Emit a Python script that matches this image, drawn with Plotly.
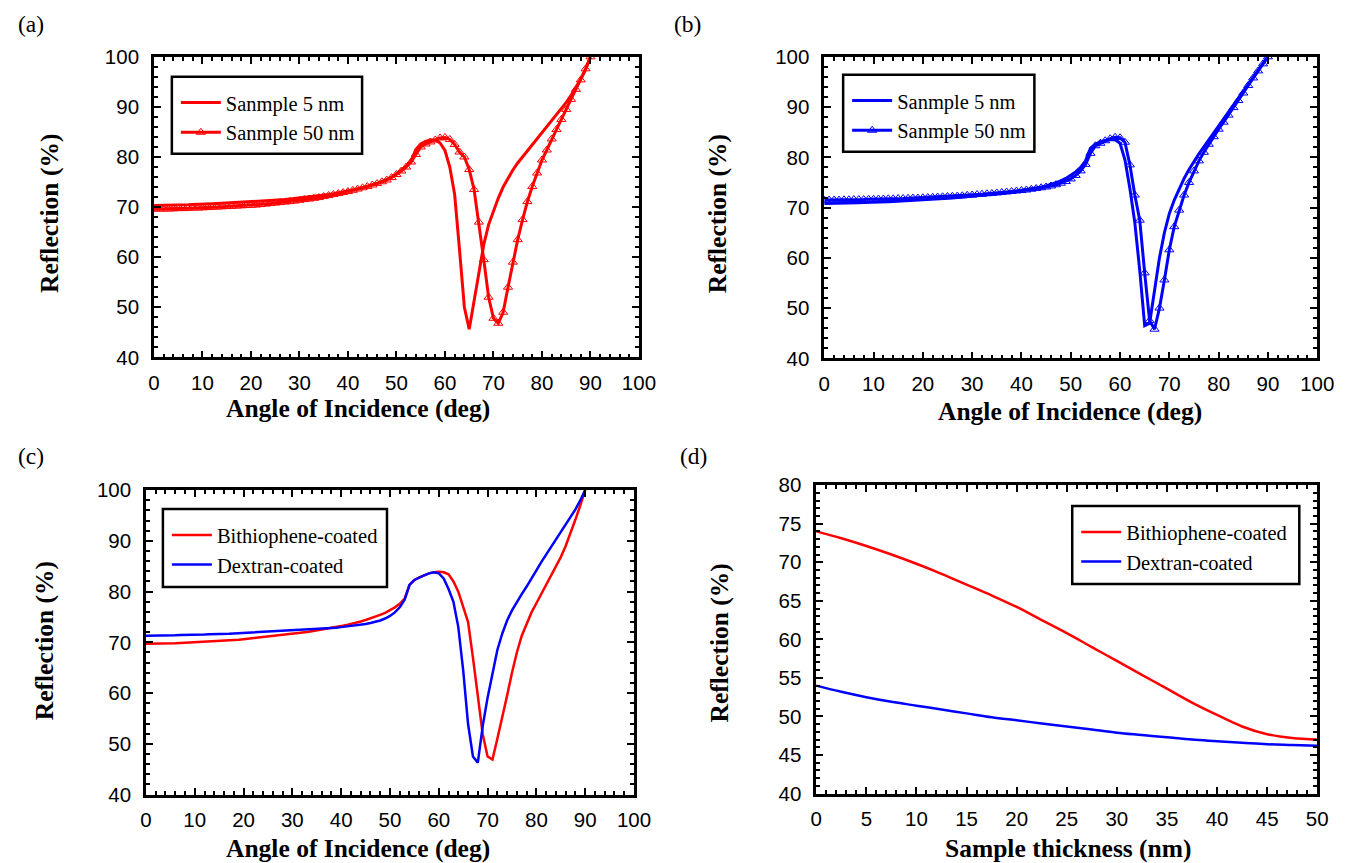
import plotly.graph_objects as go

FW, FH = 1355, 863
# calibration between figure pixels and photographed pixels (measured from earlier renders)
SX, OX = 0.987, 9.5
SY, OY = 0.975, 18.1

angle = list(range(0, 91))

a_5nm = [70.3, 70.3, 70.3, 70.3, 70.35, 70.4, 70.4, 70.45, 70.5, 70.5, 70.55,
         70.6, 70.65, 70.7, 70.75, 70.8, 70.85, 70.9, 70.95, 71.0, 71.05,
         71.1, 71.15, 71.2, 71.3, 71.4, 71.45, 71.5, 71.6, 71.7, 71.8,
         71.9, 72.0, 72.1, 72.2, 72.35, 72.5, 72.65, 72.8, 73.0, 73.2,
         73.4, 73.6, 73.85, 74.1, 74.4, 74.7, 75.1, 75.5, 76.0, 76.6,
         77.3, 78.1, 79.2, 81.5, 82.6, 83.1, 83.4, 83.4, 82.8, 81.3,
         78.0, 72.5, 61.5, 50.0, 45.6, 51.2, 57.5, 62.5, 66.5, 69.2,
         71.8, 74.0, 75.8, 77.4, 78.8, 80.0, 81.2, 82.4, 83.6, 84.8,
         86.0, 87.2, 88.4, 89.6, 90.9, 92.3, 93.8, 95.5, 97.5, 100.0]

a_50nm = [69.6, 69.6, 69.6, 69.6, 69.65, 69.7, 69.7, 69.75, 69.8, 69.8, 69.85,
          69.9, 69.95, 70.0, 70.05, 70.1, 70.15, 70.2, 70.25, 70.3, 70.35,
          70.4, 70.5, 70.6, 70.7, 70.8, 70.9, 71.0, 71.1, 71.2, 71.35,
          71.5, 71.6, 71.75, 71.9, 72.1, 72.3, 72.5, 72.7, 72.9, 73.1,
          73.35, 73.6, 73.85, 74.1, 74.4, 74.7, 75.05, 75.4, 75.9, 76.5,
          77.2, 78.0, 79.0, 80.5, 82.0, 82.6, 83.0, 83.4, 83.8, 83.9,
          83.5, 82.5, 81.0, 80.0, 77.5, 73.5, 67.0, 59.5, 52.0, 47.8,
          46.8, 49.0, 54.0, 59.0, 63.5, 67.5, 71.1, 74.1, 76.8, 79.4,
          81.4, 83.6, 85.5, 87.5, 89.5, 91.5, 93.5, 95.4, 97.6, 100.0]

b_5nm = [70.8, 70.8, 70.8, 70.85, 70.85, 70.9, 70.9, 70.95, 71.0, 71.0, 71.05,
         71.1, 71.1, 71.15, 71.2, 71.25, 71.3, 71.35, 71.4, 71.45, 71.5,
         71.55, 71.6, 71.7, 71.75, 71.8, 71.9, 72.0, 72.05, 72.15, 72.25,
         72.35, 72.45, 72.55, 72.65, 72.75, 72.85, 73.0, 73.1, 73.25, 73.4,
         73.55, 73.7, 73.9, 74.1, 74.3, 74.6, 74.9, 75.3, 75.8, 76.4,
         77.1, 78.0, 79.3, 81.8, 82.6, 83.1, 83.4, 83.6, 83.5, 82.8,
         79.5, 73.8, 67.0, 57.5, 46.5, 47.0, 53.5, 60.0, 65.0, 68.8,
         71.5, 73.8, 75.8, 77.6, 79.2, 80.7, 82.1, 83.5, 84.9, 86.2,
         87.6, 89.0, 90.4, 91.8, 93.2, 94.6, 96.0, 97.4, 98.7, 100.0]

b_50nm = [71.5, 71.5, 71.5, 71.5, 71.55, 71.55, 71.6, 71.6, 71.6, 71.65, 71.65,
          71.7, 71.7, 71.75, 71.75, 71.8, 71.8, 71.85, 71.9, 71.9, 71.95,
          72.0, 72.05, 72.1, 72.15, 72.2, 72.25, 72.3, 72.35, 72.45, 72.5,
          72.6, 72.65, 72.75, 72.8, 72.9, 73.0, 73.1, 73.2, 73.3, 73.4,
          73.5, 73.65, 73.8, 73.95, 74.1, 74.3, 74.55, 74.85, 75.2, 75.7,
          76.4, 77.3, 78.6, 80.8, 82.3, 82.8, 83.3, 83.7, 84.0, 83.9,
          83.0, 78.5, 72.5, 67.5, 57.0, 47.5, 45.8, 50.0, 55.6, 61.6,
          66.2, 69.5, 72.5, 75.0, 77.3, 79.3, 81.0, 82.6, 84.1, 85.6,
          87.0, 88.4, 89.9, 91.3, 92.8, 94.3, 95.8, 97.2, 98.6, 100.0]

c_bithiophene = [69.7, 69.7, 69.7, 69.75, 69.75, 69.8, 69.8, 69.85, 69.9, 69.9, 70.0,
                 70.05, 70.1, 70.15, 70.2, 70.25, 70.3, 70.4, 70.45, 70.5, 70.6,
                 70.7, 70.8, 70.9, 71.0, 71.1, 71.2, 71.3, 71.4, 71.5, 71.65,
                 71.8, 71.9, 72.05, 72.2, 72.35, 72.5, 72.65, 72.8, 73.0, 73.2,
                 73.4, 73.6, 73.85, 74.1, 74.4, 74.7, 75.0, 75.4, 75.8, 76.3,
                 76.9, 77.6, 78.6, 81.3, 82.3, 82.8, 83.2, 83.6, 83.8, 83.9,
                 83.8, 83.4, 82.0, 80.0, 77.0, 74.0, 67.0, 59.0, 51.9, 47.5,
                 46.9, 51.0, 55.0, 59.5, 64.0, 68.0, 71.3, 73.8, 75.9, 77.7,
                 79.5, 81.2, 83.0, 84.8, 86.8, 89.0, 91.5, 94.2, 97.0, 100.0]

c_dextran = [71.3, 71.3, 71.3, 71.35, 71.35, 71.4, 71.4, 71.45, 71.45, 71.5, 71.5,
             71.55, 71.55, 71.6, 71.6, 71.65, 71.7, 71.7, 71.75, 71.8, 71.85,
             71.9, 71.95, 72.0, 72.05, 72.1, 72.15, 72.2, 72.25, 72.3, 72.35,
             72.4, 72.45, 72.5, 72.55, 72.6, 72.7, 72.75, 72.8, 72.9, 73.0,
             73.1, 73.2, 73.3, 73.45, 73.6, 73.8, 74.0, 74.3, 74.7, 75.2,
             75.9, 76.9, 78.4, 81.3, 82.3, 82.8, 83.2, 83.6, 83.8, 83.6,
             82.6, 80.5, 78.0, 73.0, 64.5, 53.9, 47.5, 46.3, 53.5, 59.1,
             63.8, 68.5, 71.7, 74.3, 76.3, 78.0, 79.5, 81.0, 82.5, 84.2,
             85.8, 87.3, 88.8, 90.3, 91.8, 93.2, 94.6, 96.2, 98.0, 100.0]

thickness = [0, 2.5, 5, 7.5, 10, 12.5, 15, 17.5, 20, 22.5, 25, 27.5, 30,
             32.5, 35, 37.5, 40, 42.5, 45, 47.5, 50]
d_bithiophene = [74.0, 73.1, 72.1, 71.0, 69.8, 68.5, 67.1, 65.7, 64.2, 62.5, 60.8,
                 59.0, 57.2, 55.4, 53.6, 51.8, 50.2, 48.7, 47.7, 47.2, 47.0]
d_dextran = [54.0, 53.2, 52.5, 51.9, 51.4, 50.9, 50.4, 49.9, 49.5, 49.1, 48.7,
             48.3, 47.9, 47.6, 47.3, 47.0, 46.8, 46.6, 46.4, 46.3, 46.2]

RED = "#ff0000"
BLUE = "#0000ff"
SERIF = "Liberation Serif, Times New Roman, serif"
SANS = "Liberation Sans, Arial, sans-serif"

# panel boxes in target pixels: left, right, top, bottom
boxes = {
    "a": (150, 637, 55, 356),
    "b": (823, 1318, 55, 357),
    "c": (142, 632, 489, 794),
    "d": (815, 1318, 484, 793),
}


def px_x(v):
    return ((v - OX) / SX) / FW


def px_y(v):
    return 1 - ((v - OY) / SY) / FH


fig = go.Figure()

tri_red = dict(symbol="triangle-up-open", size=8, color=RED, line=dict(width=1, color=RED))
tri_blue = dict(symbol="triangle-up-open", size=8, color=BLUE, line=dict(width=1, color=BLUE))

# (a)
fig.add_trace(go.Scatter(x=angle, y=a_5nm, mode="lines", name="Sanmple 5 nm",
                         line=dict(color=RED, width=3), xaxis="x", yaxis="y", legend="legend"))
fig.add_trace(go.Scatter(x=angle, y=a_50nm, mode="lines+markers", name="Sanmple 50 nm",
                         line=dict(color=RED, width=3), marker=tri_red,
                         xaxis="x", yaxis="y", legend="legend"))
# (b)
fig.add_trace(go.Scatter(x=angle, y=b_5nm, mode="lines", name="Sanmple 5 nm",
                         line=dict(color=BLUE, width=3), xaxis="x2", yaxis="y2", legend="legend2"))
fig.add_trace(go.Scatter(x=angle, y=b_50nm, mode="lines+markers", name="Sanmple 50 nm",
                         line=dict(color=BLUE, width=3), marker=tri_blue,
                         xaxis="x2", yaxis="y2", legend="legend2"))
# (c)
fig.add_trace(go.Scatter(x=angle, y=c_bithiophene, mode="lines", name="Bithiophene-coated",
                         line=dict(color=RED, width=2.5), xaxis="x3", yaxis="y3", legend="legend3"))
fig.add_trace(go.Scatter(x=angle, y=c_dextran, mode="lines", name="Dextran-coated",
                         line=dict(color=BLUE, width=2.5), xaxis="x3", yaxis="y3", legend="legend3"))
# (d)
fig.add_trace(go.Scatter(x=thickness, y=d_bithiophene, mode="lines", name="Bithiophene-coated",
                         line=dict(color=RED, width=2.5, shape="spline"), xaxis="x4", yaxis="y4", legend="legend4"))
fig.add_trace(go.Scatter(x=thickness, y=d_dextran, mode="lines", name="Dextran-coated",
                         line=dict(color=BLUE, width=2.5, shape="spline"), xaxis="x4", yaxis="y4", legend="legend4"))


def axis(domain, rng, dtick, mdtick, anchor, standoff):
    return dict(domain=domain, range=rng, dtick=dtick, tick0=0, anchor=anchor,
                ticks="inside", ticklen=7, tickwidth=2, tickcolor="black",
                mirror="allticks", showline=True, linewidth=2.5, linecolor="black",
                showgrid=False, zeroline=False, ticklabelstandoff=standoff,
                tickfont=dict(family=SANS, size=20.5, color="black"),
                minor=dict(dtick=mdtick, ticks="inside", ticklen=4, tickwidth=1.5,
                           tickcolor="black", showgrid=False))


layout = dict(width=FW, height=FH, margin=dict(l=0, r=0, t=0, b=0),
              paper_bgcolor="white", plot_bgcolor="white", showlegend=True)

specs = [
    ("a", "", [0, 100], 10, 2, [40, 100], 10, 2),
    ("b", "2", [0, 100], 10, 2, [40, 100], 10, 2),
    ("c", "3", [0, 100], 10, 2, [40, 100], 10, 2),
    ("d", "4", [0, 50], 5, 1, [40, 80], 5, 1),
]
for key, n, xr, xd, xm, yr, yd, ym in specs:
    l, r, t, b = boxes[key]
    layout["xaxis" + n] = axis([px_x(l), px_x(r)], xr, xd, xm, "y" + n, 5)
    layout["yaxis" + n] = axis([px_y(b), px_y(t)], yr, yd, ym, "x" + n, 8)

# legend frames (target px: left, right, top, bottom)
legend_frames = {
    "legend": (168, 359, 75, 152),
    "legend2": (842, 1034, 73, 150),
    "legend3": (159, 384, 508, 586),
    "legend4": (1072, 1300, 505, 583),
}
shapes = []
for name, (l, r, t, b) in legend_frames.items():
    shapes.append(dict(type="rect", xref="paper", yref="paper",
                       x0=px_x(l), x1=px_x(r), y0=px_y(b), y1=px_y(t),
                       line=dict(color="black", width=2.5), fillcolor="white", layer="below"))
    layout[name] = dict(x=px_x(l + 4), y=px_y(t + 6), xanchor="left", yanchor="top",
                        borderwidth=0, bgcolor="rgba(0,0,0,0)",
                        font=dict(family=SERIF, size=20.5, color="black"),
                        tracegroupgap=0, itemwidth=40)

fig.update_layout(**layout)
fig.update_layout(shapes=shapes)

annotations = []
panel_labels = [("(a)", 27, 22), ("(b)", 686, 22), ("(c)", 27, 455), ("(d)", 692, 455)]
for txt, x, y in panel_labels:
    annotations.append(dict(text=txt, x=px_x(x), y=px_y(y), xref="paper", yref="paper",
                            showarrow=False, xanchor="center", yanchor="middle",
                            font=dict(family=SERIF, size=23.5, color="black")))

xtitles = [("Angle of Incidence (deg)", 355, 407), ("Angle of Incidence (deg)", 1070, 410),
           ("Angle of Incidence (deg)", 355, 848), ("Sample thickness (nm)", 1068, 848)]
for txt, x, y in xtitles:
    annotations.append(dict(text=txt, x=px_x(x), y=px_y(y), xref="paper", yref="paper",
                            showarrow=False, xanchor="center", yanchor="middle",
                            font=dict(family=SERIF, size=25.5, color="black", weight="bold")))

ytitles = [(45, 212), (716, 212), (40, 640), (718, 642)]
for x, y in ytitles:
    annotations.append(dict(text="Reflection (%)", x=px_x(x), y=px_y(y), xref="paper", yref="paper",
                            showarrow=False, xanchor="center", yanchor="middle", textangle=-90,
                            font=dict(family=SERIF, size=25.5, color="black", weight="bold")))

fig.update_layout(annotations=annotations)

fig.write_html("out.html")
